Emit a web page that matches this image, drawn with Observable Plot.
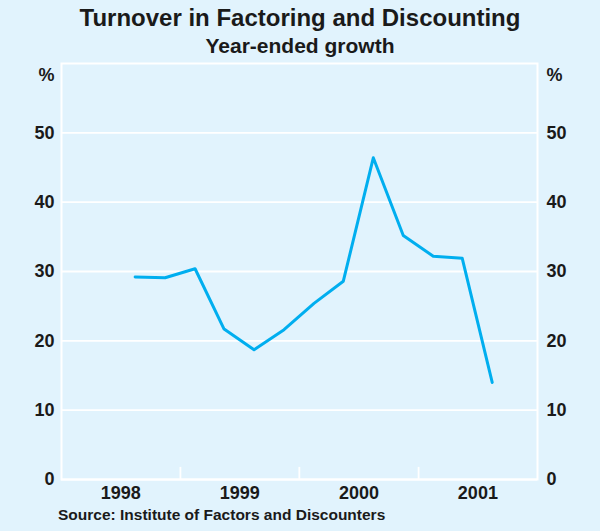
<!DOCTYPE html>
<html><head><meta charset="utf-8">
<script src="https://cdn.jsdelivr.net/npm/d3@7"></script>
<script src="https://cdn.jsdelivr.net/npm/@observablehq/plot@0.6"></script>
<style>
html,body{margin:0;padding:0;background:#E1F3FD;}
#wrap{width:600px;height:531px;overflow:hidden;font-family:"Liberation Sans",Arial,sans-serif;color:#1a1a1a;}
#head{height:56px;position:relative;}
#title{position:absolute;left:0;right:0;top:4px;text-align:center;font-weight:bold;font-size:24px;line-height:28px;white-space:nowrap;}
#sub{position:absolute;left:0;right:0;top:34px;text-align:center;font-weight:bold;font-size:21px;line-height:24px;white-space:nowrap;}
#cap{height:26px;position:relative;}
#source{position:absolute;left:58px;top:1px;font-weight:bold;font-size:15.5px;line-height:18px;white-space:nowrap;}
svg{display:block;}
</style>
</head><body>
<div id="wrap">
  <div id="head"><div id="title">Turnover in Factoring and Discounting</div><div id="sub">Year-ended growth</div></div>
  <div id="chart"></div>
  <div id="cap"><div id="source">Source: Institute of Factors and Discounters</div></div>
</div>
<script>
// Quarterly observations (mid-quarter), year-ended growth, %
const dates = ["1998-08-15","1998-11-15","1999-02-15","1999-05-15","1999-08-15","1999-11-15",
               "2000-02-15","2000-05-15","2000-08-15","2000-11-15","2001-02-15","2001-05-15","2001-08-15"];
const growth = [29.2, 29.1, 30.4, 21.7, 18.7, 21.6, 25.4, 28.6, 46.4, 35.2, 32.2, 31.9, 14.0];
const yearLabels = ["1998","1999","2000","2001"];
const yearMids = ["1998-07-02","1999-07-02","2000-07-02","2001-07-02"];
const yearBounds = ["1999-01-01","2000-01-01","2001-01-01"];
const yTicks = [0,10,20,30,40,50];

const data = dates.map((d,i)=>({date:new Date(d), value:growth[i]}));
const labels = yearLabels.map((t,i)=>({date:new Date(yearMids[i]), text:t}));
const bounds = yearBounds.map(d=>new Date(d));

const lineColor = "#00AEEF";
const txt = "#1a1a1a";
const fs = 18;

const chart = Plot.plot({
  width: 600,
  height: 449,
  marginTop: 7,
  marginBottom: 26,
  marginLeft: 61,
  marginRight: 63,
  style: {background:"transparent", fontFamily:"'Liberation Sans', Arial, sans-serif", fontWeight:"bold", fontSize:fs+"px", color:txt},
  x: {type:"utc", domain:[new Date("1998-01-01"), new Date("2002-01-01")], axis:null},
  y: {domain:[0,60], axis:null},
  marks: [
    Plot.gridY(yTicks, {stroke:"white", strokeOpacity:1, strokeWidth:1.8}),
    Plot.ruleX(bounds, {x:d=>d, y1:0, y2:1.75, stroke:"white", strokeWidth:1.8}),
    Plot.frame({stroke:"white", strokeWidth:2}),
    Plot.line(data, {x:"date", y:"value", stroke:lineColor, strokeWidth:3}),
    Plot.axisY(yTicks, {anchor:"left", label:null, tickSize:0, tickPadding:7, fontSize:fs, fontWeight:"bold", fill:txt}),
    Plot.axisY(yTicks, {anchor:"right", label:null, tickSize:0, tickPadding:9, fontSize:fs, fontWeight:"bold", fill:txt}),
    Plot.text(labels, {x:"date", text:"text", frameAnchor:"bottom", lineAnchor:"middle", dy:14, fontSize:fs, fontWeight:"bold", fill:txt}),
    Plot.text(["%"], {frameAnchor:"top-left", lineAnchor:"middle", dx:-7, dy:12, textAnchor:"end", fontSize:fs, fontWeight:"bold", fill:txt}),
    Plot.text(["%"], {frameAnchor:"top-right", lineAnchor:"middle", dx:9, dy:12, textAnchor:"start", fontSize:fs, fontWeight:"bold", fill:txt})
  ]
});
document.getElementById("chart").appendChild(chart);
</script>
</body></html>
